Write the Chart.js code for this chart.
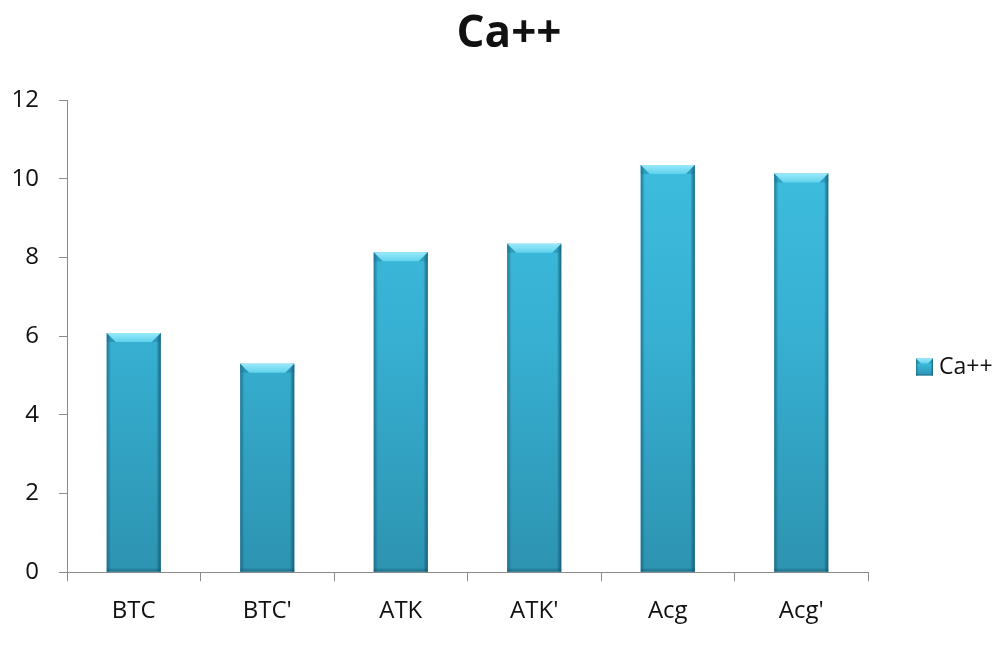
<!DOCTYPE html>
<html>
<head>
<meta charset="utf-8">
<title>Ca++</title>
<script src="https://cdn.jsdelivr.net/npm/chart.js@4.4.0/dist/chart.umd.min.js"></script>
<style>
  html, body { margin: 0; padding: 0; background: #fff; }
  #wrap { width: 998px; height: 648px; }
</style>
</head>
<body>
<div id="wrap"><canvas id="chart" width="998" height="648"></canvas></div>
<script>
const chartTitle = 'Ca++';
const categories = ["BTC", "BTC'", "ATK", "ATK'", "Acg", "Acg'"];
const caValues = [6.08, 5.3, 8.13, 8.35, 10.35, 10.13];
const yTicks = [0, 2, 4, 6, 8, 10, 12];

const FONT = "'Open Sans', 'DejaVu Sans', sans-serif";

// body gradient of a single bar, lighter at the top
function bodyGradient(ctx, top, bottom) {
  const g = ctx.createLinearGradient(0, top, 0, bottom);
  g.addColorStop(0, '#3fc1e3');
  g.addColorStop(0.5, '#37b0d2');
  g.addColorStop(1, '#2d93b1');
  return g;
}

// bevelled edges on a box (excel style bars)
// t: height of the top face, c: corner inset of the top face, s: side strip width
function bevel(ctx, left, top, right, bottom, t, c, s) {
  // left side
  let g = ctx.createLinearGradient(left, 0, left + s, 0);
  g.addColorStop(0, 'rgba(20,95,120,0.7)');
  g.addColorStop(1, 'rgba(20,95,120,0.05)');
  ctx.fillStyle = g;
  ctx.fillRect(left, top, s, bottom - top);
  // right side
  g = ctx.createLinearGradient(right - s, 0, right, 0);
  g.addColorStop(0, 'rgba(15,80,105,0.1)');
  g.addColorStop(1, 'rgba(15,80,105,0.8)');
  ctx.fillStyle = g;
  ctx.fillRect(right - s, top, s, bottom - top);
  // bottom edge
  g = ctx.createLinearGradient(0, bottom - s, 0, bottom);
  g.addColorStop(0, 'rgba(15,80,105,0)');
  g.addColorStop(1, 'rgba(15,80,105,0.6)');
  ctx.fillStyle = g;
  ctx.fillRect(left, bottom - s, right - left, s);
  // top face
  g = ctx.createLinearGradient(0, top, 0, top + t);
  g.addColorStop(0, '#9aeafa');
  g.addColorStop(1, '#5fd2ec');
  ctx.fillStyle = g;
  ctx.beginPath();
  ctx.moveTo(left, top);
  ctx.lineTo(right, top);
  ctx.lineTo(right - c, top + t);
  ctx.lineTo(left + c, top + t);
  ctx.closePath();
  ctx.fill();
  // darker corners either side of the top face
  ctx.fillStyle = 'rgba(25,110,140,0.35)';
  ctx.beginPath();
  ctx.moveTo(left, top);
  ctx.lineTo(left + c, top + t);
  ctx.lineTo(left, top + t);
  ctx.closePath();
  ctx.fill();
  ctx.beginPath();
  ctx.moveTo(right, top);
  ctx.lineTo(right - c, top + t);
  ctx.lineTo(right, top + t);
  ctx.closePath();
  ctx.fill();
}

const bevelBars = {
  id: 'bevelBars',
  afterDatasetsDraw(chart) {
    const ctx = chart.ctx;
    const meta = chart.getDatasetMeta(0);
    ctx.save();
    meta.data.forEach(bar => {
      const p = bar.getProps(['x', 'y', 'base', 'width'], true);
      const left = p.x - p.width / 2, right = p.x + p.width / 2;
      bevel(ctx, left, p.y, right, p.base, 9, 9, 4);
    });
    ctx.restore();
  }
};

// title centred on the whole canvas, legend on the right of the plot
const titleAndLegend = {
  id: 'titleAndLegend',
  afterDraw(chart) {
    const ctx = chart.ctx;
    ctx.save();
    ctx.fillStyle = '#111';
    ctx.font = 'bold 44px ' + FONT;
    ctx.textAlign = 'center';
    ctx.textBaseline = 'alphabetic';
    ctx.fillText(chartTitle, chart.width / 2 + 10, 47);

    const ds = chart.data.datasets[0];
    const x = chart.chartArea.right + 48;
    const y = 367;
    const size = 17;
    ctx.fillStyle = bodyGradient(ctx, y - size / 2, y + size / 2);
    ctx.fillRect(x, y - size / 2, size, size);
    bevel(ctx, x, y - size / 2, x + size, y + size / 2, 5, 5, 2);
    ctx.fillStyle = '#111';
    ctx.font = '23px ' + FONT;
    ctx.textBaseline = 'middle';
    ctx.textAlign = 'left';
    ctx.fillText(ds.label, x + size + 6, y);
    ctx.restore();
  }
};

const ctx = document.getElementById('chart').getContext('2d');
new Chart(ctx, {
  type: 'bar',
  data: {
    labels: categories,
    datasets: [{
      label: 'Ca++',
      data: caValues,
      backgroundColor: (c) => {
        const area = c.chart.chartArea;
        if (!area) return '#37b0d2';
        return bodyGradient(c.chart.ctx, area.top, area.bottom);
      },
      borderWidth: 0,
      categoryPercentage: 1,
      barPercentage: 0.405
    }]
  },
  options: {
    responsive: false,
    animation: false,
    layout: { padding: { left: 12, right: 130, top: 100, bottom: 6 } },
    plugins: {
      legend: { display: false },
      tooltip: { enabled: false },
      title: { display: false }
    },
    scales: {
      x: {
        grid: { display: true, drawOnChartArea: false, drawTicks: true, tickLength: 9, color: '#8a8a8a', offset: true },
        border: { display: true, color: '#8a8a8a', width: 1 },
        ticks: { color: '#111', font: { family: FONT, size: 24 }, padding: 16 }
      },
      y: {
        min: 0,
        max: 12,
        afterBuildTicks: (axis) => { axis.ticks = yTicks.map(v => ({ value: v })); },
        afterFit: (axis) => { axis.width = 55; },
        grid: { display: true, drawOnChartArea: false, drawTicks: true, tickLength: 8, color: '#8a8a8a' },
        border: { display: true, color: '#8a8a8a', width: 1 },
        ticks: { color: '#111', font: { family: FONT, size: 24 }, padding: 20 }
      }
    }
  },
  plugins: [bevelBars, titleAndLegend]
});
</script>
</body>
</html>
